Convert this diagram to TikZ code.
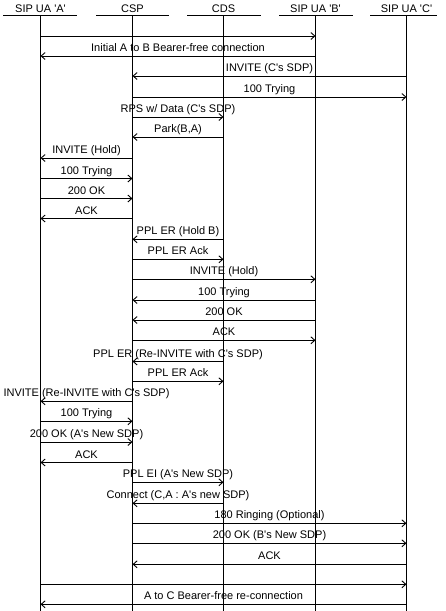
\documentclass[tikz,border=0pt]{standalone}
\usepackage{fontspec}
\setmainfont{Liberation Sans}[Ligatures=TeXOff]
\usetikzlibrary{arrows.meta}
\begin{document}
\begin{tikzpicture}[x=1pt,y=-1pt,line width=0.9pt,
  msg/.style={draw,-{Straight Barb[length=4pt,width=7pt]}},
  lbl/.style={anchor=base,inner sep=0pt,font=\fontsize{11}{13}\selectfont},
  hdr/.style={anchor=base,inner sep=0pt,font=\fontsize{11}{13}\selectfont},
  life/.style={draw}]
\useasboundingbox (0,0) rectangle (445,611);
\fill[white] (0,0) rectangle (445,611);
\foreach \n/\x/\l/\r/\t in {A/40.5/3/77/{SIP UA 'A'},CSP/132.5/96/169/{CSP},CDS/223.5/187/261/{CDS},B/315.5/279/353/{SIP UA 'B'},C/406.5/370/437/{SIP UA 'C'}}{
  \coordinate (\n) at (\x,15);
  \coordinate (\n-l) at (\l,15);
  \coordinate (\n-r) at (\r,15);
  \coordinate (\n-end) at (\x,611);
  \node[hdr] (\n-h) at (\x,12.5) {\t};
  \draw[life] (\n-l) -- (\n-r);
  \draw[life] (\n) -- (\n-end);
}
\foreach \f/\t/\y/\l in {
A/B/36/{},
B/A/56/{Initial A to B Bearer-free connection},
C/CSP/76/{INVITE (C's SDP)},
CSP/C/97/{100 Trying},
CSP/CDS/117/{RPS w/ Data (C's SDP)},
CDS/CSP/137/{Park(B,A)},
CSP/A/158/{INVITE (Hold)},
A/CSP/178.5/{100 Trying},
A/CSP/198.5/{200 OK},
CSP/A/218.5/{ACK},
CDS/CSP/239.3/{PPL ER (Hold B)},
CSP/CDS/259.3/{PPL ER Ack},
CSP/B/279.3/{INVITE (Hold)},
B/CSP/300/{100 Trying},
B/CSP/320/{200 OK},
CSP/B/340.3/{ACK},
CDS/CSP/361.5/{PPL ER (Re-INVITE with C's SDP)},
CSP/CDS/381.3/{PPL ER Ack},
CSP/A/401.3/{INVITE (Re-INVITE with C's SDP)},
A/CSP/421.3/{100 Trying},
A/CSP/442/{200 OK (A's New SDP)},
CSP/A/462.5/{ACK},
CSP/CDS/482.3/{PPL EI (A's New SDP)},
CDS/CSP/503.3/{Connect (C,A : A's new SDP)},
CSP/C/523.3/{180 Ringing (Optional)},
CSP/C/543.3/{200 OK (B's New SDP)},
C/CSP/564.3/{ACK},
A/C/584.3/{},
C/A/604.3/{A to C Bearer-free re-connection}}{
  \draw[msg] (\f |- 0,\y) -- (\t |- 0,\y) node[lbl,midway,yshift=4.5pt] {\l};
}
\end{tikzpicture}
\end{document}
